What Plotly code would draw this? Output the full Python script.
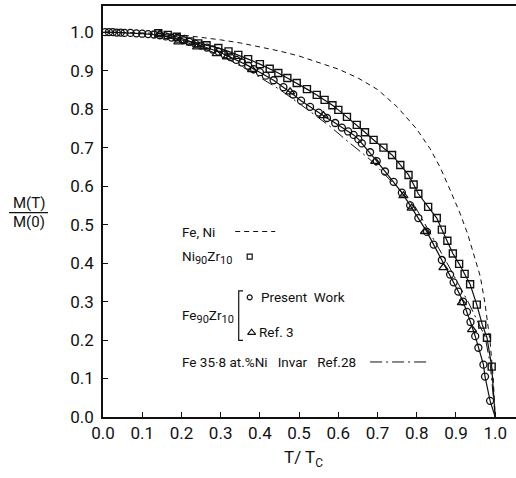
import plotly.graph_objects as go

# ---------------- data ----------------
# Fe, Ni (dashed reference curve)
feni_x = [0.0, 0.1, 0.15, 0.2, 0.25, 0.3, 0.35, 0.4, 0.45, 0.5, 0.55, 0.6, 0.65, 0.7, 0.75, 0.8,
          0.834, 0.86, 0.885, 0.91, 0.93, 0.95, 0.962, 0.974, 0.987, 0.995, 1.0]
feni_y = [1.0, 0.999, 0.997, 0.993, 0.987, 0.980, 0.972, 0.962, 0.951, 0.938, 0.922, 0.904, 0.881,
          0.851, 0.806, 0.748, 0.697, 0.648, 0.590, 0.530, 0.475, 0.410, 0.365, 0.295, 0.195,
          0.100, 0.0]

# Ni90Zr10 (squares)
ni_x = [0.141, 0.165, 0.188, 0.205, 0.222, 0.243, 0.264, 0.294, 0.320, 0.345, 0.370, 0.400, 0.425,
        0.447, 0.470, 0.494, 0.520, 0.545, 0.565, 0.585, 0.600, 0.622, 0.647, 0.668, 0.690, 0.715,
        0.737, 0.758, 0.779, 0.792, 0.804, 0.829, 0.851, 0.864, 0.878, 0.892, 0.908, 0.922, 0.936,
        0.953, 0.967, 0.979, 0.991]
ni_y = [0.997, 0.993, 0.988, 0.982, 0.976, 0.971, 0.966, 0.959, 0.950, 0.941, 0.930, 0.917, 0.905,
        0.894, 0.881, 0.868, 0.852, 0.837, 0.824, 0.810, 0.798, 0.780, 0.759, 0.740, 0.720, 0.700,
        0.681, 0.655, 0.629, 0.604, 0.580, 0.546, 0.517, 0.487, 0.458, 0.425, 0.398, 0.372, 0.345,
        0.292, 0.240, 0.206, 0.131]

# Fe90Zr10 present work (circles)
fe_x = [0.005, 0.015, 0.025, 0.035, 0.045, 0.055, 0.07, 0.085, 0.10, 0.115, 0.13, 0.145, 0.16,
        0.175, 0.19, 0.205, 0.22, 0.235, 0.25, 0.265, 0.28, 0.295, 0.31, 0.325, 0.34, 0.355, 0.37,
        0.385, 0.40, 0.415, 0.435, 0.46, 0.485, 0.505, 0.528, 0.55, 0.571, 0.592, 0.609, 0.625,
        0.639, 0.651, 0.66, 0.681, 0.698, 0.719, 0.741, 0.762, 0.783, 0.804, 0.826, 0.843, 0.864,
        0.885, 0.894, 0.906, 0.918, 0.928, 0.937, 0.949, 0.957, 0.970, 0.974, 0.987]
fe_y = [1.000, 1.000, 1.000, 0.999, 0.999, 0.998, 0.998, 0.997, 0.996, 0.995, 0.994, 0.992, 0.989,
        0.986, 0.983, 0.979, 0.975, 0.970, 0.965, 0.960, 0.955, 0.949, 0.942, 0.935, 0.928, 0.921,
        0.913, 0.904, 0.896, 0.887, 0.875, 0.857, 0.838, 0.822, 0.806, 0.791, 0.777, 0.764, 0.752,
        0.742, 0.733, 0.722, 0.711, 0.688, 0.665, 0.638, 0.611, 0.583, 0.550, 0.517, 0.481, 0.448,
        0.408, 0.370, 0.350, 0.326, 0.300, 0.273, 0.247, 0.210, 0.180, 0.136, 0.105, 0.042]

# Curie point (end of the drawn curves)
tc_x = [1.0]
tc_y = [0.0]

# Fe90Zr10 Ref. 3 (triangles)
ref3_x = [0.145, 0.192, 0.240, 0.290, 0.316, 0.380, 0.477, 0.562, 0.694, 0.766, 0.787, 0.821,
          0.868, 0.915, 0.941]
ref3_y = [0.996, 0.975, 0.962, 0.944, 0.936, 0.903, 0.845, 0.783, 0.664, 0.575, 0.543, 0.482,
          0.388, 0.297, 0.227]

# Fe 35.8 at.% Ni Invar, Ref. 28 (dash-dot)
invar_x = [0.15, 0.2, 0.25, 0.3, 0.367, 0.452, 0.52, 0.579, 0.622, 0.68, 0.732, 0.796, 0.834,
           0.88, 0.932, 0.974, 0.987, 1.0]
invar_y = [0.992, 0.978, 0.960, 0.940, 0.903, 0.850, 0.800, 0.755, 0.718, 0.670, 0.616, 0.546,
           0.478, 0.395, 0.297, 0.209, 0.140, 0.0]

tick_vals = [0.0, 0.1, 0.2, 0.3, 0.4, 0.5, 0.6, 0.7, 0.8, 0.9, 1.0]
tick_text = ["0.0", "0.1", "0.2", "0.3", "0.4", "0.5", "0.6", "0.7", "0.8", "0.9", "1.0"]

# ---------------- figure ----------------
FONT = "Roboto"
BLK = "#111111"
fig = go.Figure()

fig.add_trace(go.Scatter(x=feni_x, y=feni_y, mode="lines",
                         line=dict(color=BLK, width=1, dash="5px,4px"), hoverinfo="skip"))
fig.add_trace(go.Scatter(x=invar_x, y=invar_y, mode="lines",
                         line=dict(color=BLK, width=1, dash="12px,4px,2px,4px"), hoverinfo="skip"))
fig.add_trace(go.Scatter(x=ni_x + tc_x, y=ni_y + tc_y, mode="lines",
                         line=dict(color=BLK, width=1.2), hoverinfo="skip"))
fig.add_trace(go.Scatter(x=fe_x + tc_x, y=fe_y + tc_y, mode="lines",
                         line=dict(color=BLK, width=1.2), hoverinfo="skip"))
fig.add_trace(go.Scatter(x=ni_x, y=ni_y, mode="markers",
                         marker=dict(symbol="square-open", size=7, color=BLK, line=dict(width=1.4))))
fig.add_trace(go.Scatter(x=ref3_x, y=ref3_y, mode="markers",
                         marker=dict(symbol="triangle-up-open", size=8, color=BLK, line=dict(width=1.3))))
fig.add_trace(go.Scatter(x=fe_x, y=fe_y, mode="markers",
                         marker=dict(symbol="circle-open", size=7, color=BLK, line=dict(width=1.3))))

# ----- in-plot legend -----
LF = dict(family=FONT, size=13.5, color=BLK)
SUB = lambda s: "<sub><span style='font-size:11px'>" + s + "</span></sub>"
leg_x = 0.196
ann = [
    dict(x=leg_x, y=0.482, text="Fe, Ni"),
    dict(x=leg_x, y=0.414, text="Ni" + SUB("90") + "Zr" + SUB("10")),
    dict(x=leg_x, y=0.262, text="Fe" + SUB("90") + "Zr" + SUB("10")),
    dict(x=0.399, y=0.312, text="Present &nbsp;Work"),
    dict(x=0.392, y=0.221, text="Ref. 3"),
    dict(x=leg_x, y=0.143, text="Fe 35·8 at.%Ni &nbsp;&nbsp;Invar &nbsp;&nbsp;Ref.28"),
]
for a in ann:
    fig.add_annotation(x=a["x"], y=a["y"], text=a["text"], showarrow=False,
                       xanchor="left", yanchor="middle", font=LF)

# legend samples
fig.add_trace(go.Scatter(x=[0.337, 0.439], y=[0.482, 0.482], mode="lines",
                         line=dict(color=BLK, width=1, dash="5px,4px"), hoverinfo="skip"))
fig.add_trace(go.Scatter(x=[0.681, 0.829], y=[0.143, 0.143], mode="lines",
                         line=dict(color=BLK, width=1, dash="12px,4px,2px,4px"), hoverinfo="skip"))
fig.add_trace(go.Scatter(x=[0.374], y=[0.417], mode="markers",
                         marker=dict(symbol="square-open", size=5, color=BLK, line=dict(width=1.2))))
fig.add_trace(go.Scatter(x=[0.374], y=[0.311], mode="markers",
                         marker=dict(symbol="circle-open", size=5, color=BLK, line=dict(width=1.2))))
fig.add_trace(go.Scatter(x=[0.379], y=[0.219], mode="markers",
                         marker=dict(symbol="triangle-up-open", size=7, color=BLK, line=dict(width=1.2))))
# bracket
fig.add_shape(type="path", path="M 0.357 0.328 L 0.346 0.328 L 0.346 0.199 L 0.357 0.199",
              xref="x", yref="y", line=dict(color=BLK, width=1.2))

# ----- axis titles -----
TF = dict(family=FONT, size=15, color=BLK)
fig.add_annotation(x=0, xref="paper", xshift=-74, y=0.555, yref="y", text="M(T)",
                   showarrow=False, xanchor="center", yanchor="middle", font=TF)
fig.add_annotation(x=0, xref="paper", xshift=-74, y=0.507, yref="y", text="M(0)",
                   showarrow=False, xanchor="center", yanchor="middle", font=TF)
fig.add_shape(type="line", xref="paper", xsizemode="pixel", xanchor=0, x0=-94, x1=-55,
              yref="y", y0=0.531, y1=0.531, line=dict(color=BLK, width=1.3))
fig.add_annotation(x=0.51, xref="x", y=0, yref="paper", yshift=-41,
                   text="T/ T<sub>C</sub>", showarrow=False, xanchor="center",
                   yanchor="middle", font=dict(family=FONT, size=17, color=BLK))

axis_common = dict(showgrid=False, zeroline=False, showline=True, linecolor=BLK, linewidth=1.5,
                   ticks="inside", ticklen=5, tickwidth=1.2, tickcolor=BLK,
                   tickvals=tick_vals, ticktext=tick_text,
                   tickfont=dict(family=FONT, size=17, color=BLK))
fig.update_xaxes(range=[0, 1.053], mirror=True, **axis_common)
fig.update_yaxes(range=[0, 1.068], mirror=False, ticklabelstandoff=4, **axis_common)

fig.update_layout(width=516, height=478, margin=dict(l=103, r=0, t=6, b=61),
                  paper_bgcolor="white", plot_bgcolor="white", showlegend=False)

fig.write_html("out.html")
